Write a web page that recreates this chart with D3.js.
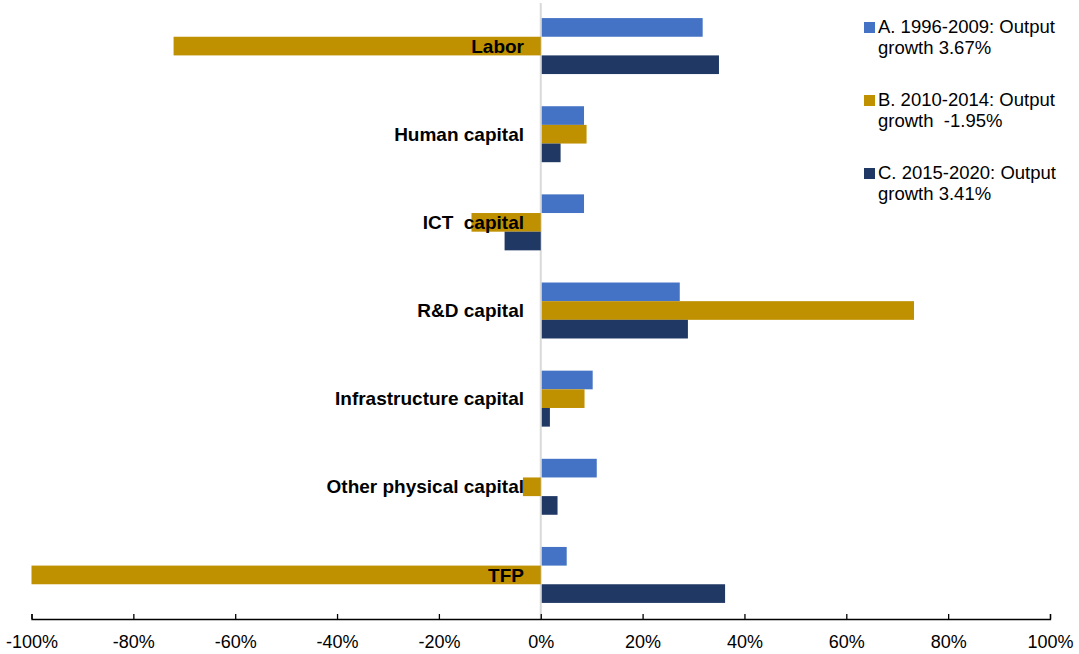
<!DOCTYPE html>
<html>
<head>
<meta charset="utf-8">
<script src="https://cdn.jsdelivr.net/npm/d3@7"></script>
<style>
  body { margin: 0; background: #fff; }
  text { font-family: "Liberation Sans", Arial, sans-serif; }
</style>
</head>
<body>
<svg id="chart" width="1079" height="654"></svg>
<script>
let categories = ["Labor", "Human capital", "ICT  capital", "R&D capital",
    "Infrastructure capital", "Other physical capital", "TFP"]

let seriesNames = ["A. 1996-2009: Output growth 3.67%",
    "B. 2010-2014: Output growth  -1.95%",
    "C. 2015-2020: Output growth 3.41%"]

// shares of output growth, in %
let seriesA = [31.6, 8.3, 8.3, 27.1, 10.0, 10.8, 4.9]
let seriesB = [-72.1, 8.8, -13.6, 73.1, 8.4, -3.5, -100]
let seriesC = [34.8, 3.7, -7.1, 28.7, 1.6, 3.1, 36.0]

let legendLines = [
    ["A. 1996-2009: Output", "growth 3.67%"],
    ["B. 2010-2014: Output", "growth  -1.95%"],
    ["C. 2015-2020: Output", "growth 3.41%"]
]

let tickValues = [-100, -80, -60, -40, -20, 0, 20, 40, 60, 80, 100]

let colors = ["#4472C4", "#BF9000", "#203864"]

let allSeries = [seriesA, seriesB, seriesC]
let svg = d3.select("#chart")

let x = d3.scaleLinear()
    .domain([-100, 100])
    .range([31.5, 1050])

let y0 = d3.scaleBand()
    .domain(categories)
    .range([2, 619])
    .paddingInner(0.365)
    .paddingOuter(0.1825)

let y1 = d3.scaleBand()
    .domain(d3.range(allSeries.length))
    .range([0, y0.bandwidth()])

// zero line
svg.append("line")
    .attr("x1", x(0)).attr("x2", x(0))
    .attr("y1", 3).attr("y2", 619)
    .attr("stroke", "#d9d9d9")
    .attr("stroke-width", 2)

let rows = []
categories.forEach((c, i) => {
    allSeries.forEach((s, j) => rows.push({ cat: c, s: j, v: s[i] }))
})

svg.append("g")
    .selectAll("rect")
    .data(rows)
    .join("rect")
    .attr("x", d => x(Math.min(0, d.v)) + (d.v >= 0 ? 1 : 0))
    .attr("y", d => y0(d.cat) + y1(d.s))
    .attr("width", d => Math.abs(x(d.v) - x(0)))
    .attr("height", y1.bandwidth())
    .attr("fill", d => colors[d.s])

// category labels
svg.append("g")
    .selectAll("text")
    .data(categories)
    .join("text")
    .attr("x", 524)
    .attr("y", d => y0(d) + y0.bandwidth() / 2)
    .attr("dy", "0.35em")
    .attr("text-anchor", "end")
    .style("white-space", "pre")
    .attr("font-size", 19)
    .attr("font-weight", "bold")
    .attr("fill", "#000")
    .text(d => d)

let xAxis = d3.axisBottom(x)
    .tickValues(tickValues)
    .tickSizeInner(-5)
    .tickSizeOuter(-5)
    .tickPadding(16)
    .tickFormat(d => d + "%")

let ax = svg.append("g")
    .attr("transform", "translate(0, 619)")
    .call(xAxis)
ax.selectAll("path, line").attr("stroke", "#000").attr("stroke-width", 1.3)
ax.selectAll("text")
    .attr("font-size", 18)
    .attr("font-family", "Liberation Sans, Arial, sans-serif")
    .attr("fill", "#000")

// legend
let legend = svg.append("g")
    .selectAll("g")
    .data(legendLines)
    .join("g")
    .attr("transform", (d, i) => `translate(864, ${33 + i * 73})`)

legend.append("rect")
    .attr("x", 0).attr("y", -11)
    .attr("width", 11).attr("height", 11)
    .attr("fill", (d, i) => colors[i])

legend.append("text")
    .attr("x", 14)
    .attr("font-size", 18.5)
    .style("white-space", "pre")
    .attr("fill", "#000")
    .selectAll("tspan")
    .data(d => d)
    .join("tspan")
    .attr("x", 14)
    .attr("dy", (d, i) => i == 0 ? 0 : 21)
    .text(d => d)
</script>
</body>
</html>
